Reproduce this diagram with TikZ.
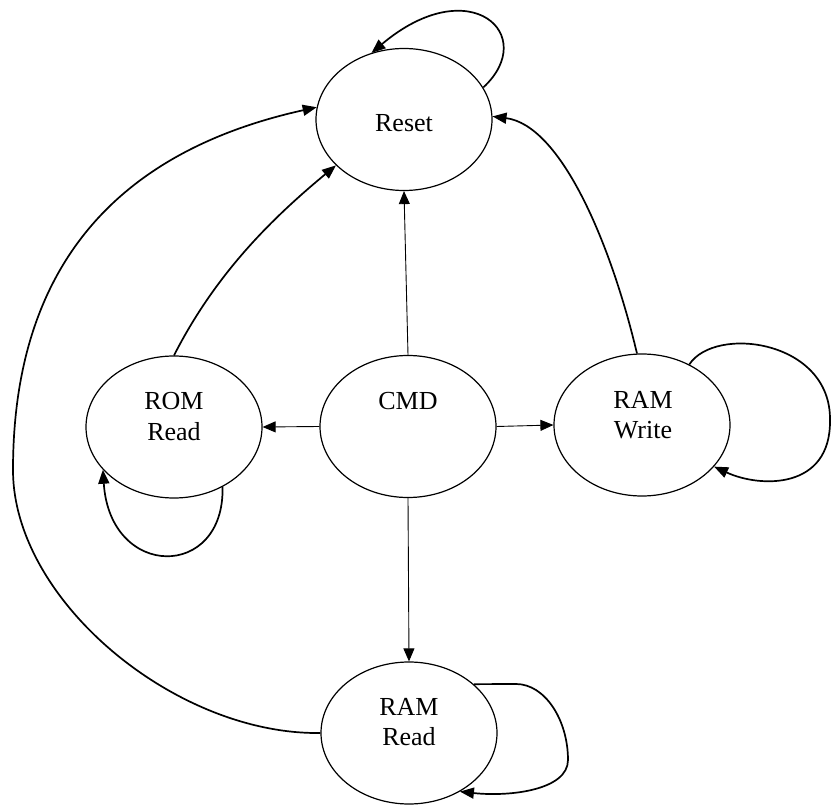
\documentclass[tikz,border=0pt]{standalone}
\usepackage{fontspec}
\setmainfont{Liberation Serif}
\usetikzlibrary{shapes.geometric,arrows.meta}
\begin{document}
\begin{tikzpicture}[x=1pt,y=-1pt,
  state/.style={ellipse,draw,line width=1.2pt,minimum width=176pt,minimum height=142pt,inner sep=0pt},
  lbl/.style={anchor=base,inner sep=0pt,font=\fontsize{26}{31}\selectfont},
  thinarrow/.style={line width=0.9pt,-{Triangle[length=13pt,width=11pt]}},
  bigarrow/.style={line width=1.7pt,-{Triangle[length=14pt,width=11pt]}}]
\useasboundingbox (0,0) rectangle (831,805);
% states
\node[state] (reset) at (404,119.5) {};
\node[state] (cmd) at (408,426.5) {};
\node[state] (rom) at (174,427) {};
\node[state] (ramw) at (642,425) {};
\node[state] (ramr) at (409,733) {};
% labels
\node[lbl] (tReset) at (404,131.7) {Reset};
\node[lbl] (tCmd) at (408,409.5) {CMD};
\node[lbl] (tRom1) at (174,409.3) {ROM};
\node[lbl] (tRom2) at (174,440) {Read};
\node[lbl] (tRamw1) at (643,408.3) {RAM};
\node[lbl] (tRamw2) at (643,438.5) {Write};
\node[lbl] (tRamr1) at (409,715) {RAM};
\node[lbl] (tRamr2) at (409,745.5) {Read};
% straight transitions from CMD
\draw[thinarrow] (cmd.north) -- (reset.south);
\draw[thinarrow] (cmd.west) -- (rom.east);
\draw[thinarrow] (cmd.east) -- (ramw.west);
\draw[thinarrow] (cmd.south) -- (ramr.north);
% curved transitions to Reset
\draw[bigarrow] (rom.north) .. controls (215,275) and (270,220) .. (reset.214);
\draw[bigarrow] (ramr.west) .. controls (175,735) and (13,600) .. (13,470)
   .. controls (13,240) and (146,145) .. (reset.172);
\draw[bigarrow] (ramw.94) .. controls (610,240) and (560,125) .. (reset.2);
% self loops
\draw[bigarrow] (reset.22) .. controls (540,35) and (470,-30) .. (reset.116);
\draw[bigarrow] (rom.-51) .. controls (225,580) and (110,580) .. (rom.-149);
\draw[bigarrow] (ramw.52) .. controls (715,325) and (831,340) .. (830,420)
   .. controls (831,490) and (760,488) .. (ramw.-30);
\draw[bigarrow] (ramr.37) -- (516,684) .. controls (545,684) and (568,720) .. (568,760)
   .. controls (568,790) and (510,797) .. (ramr.-49);
\end{tikzpicture}
\end{document}
